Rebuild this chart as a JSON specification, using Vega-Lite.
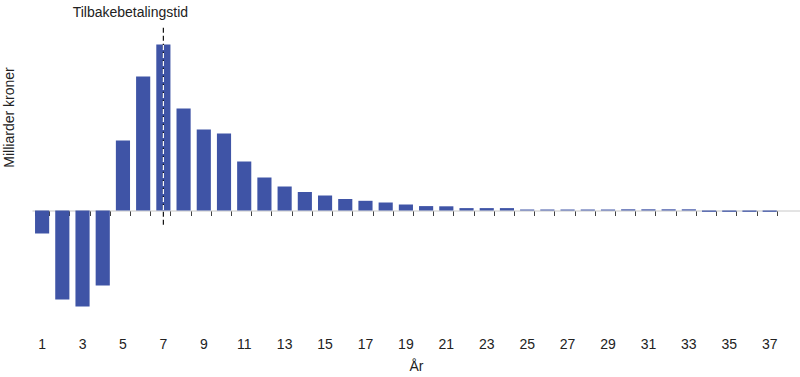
{
  "$schema": "https://vega.github.io/schema/vega-lite/v6.json",
  "width": 768,
  "height": 315,
  "autosize": {"type": "none"},
  "padding": {"left": 32, "top": 5, "right": 0, "bottom": 57},
  "config": {"view": {"stroke": null}, "font": "Liberation Sans"},
  "data": {
    "values": [
      {"year": 1, "value": -23}, {"year": 2, "value": -89}, {"year": 3, "value": -96},
      {"year": 4, "value": -75}, {"year": 5, "value": 70}, {"year": 6, "value": 134},
      {"year": 7, "value": 166}, {"year": 8, "value": 102}, {"year": 9, "value": 81},
      {"year": 10, "value": 77}, {"year": 11, "value": 49}, {"year": 12, "value": 33},
      {"year": 13, "value": 24}, {"year": 14, "value": 18.5}, {"year": 15, "value": 15},
      {"year": 16, "value": 11.5}, {"year": 17, "value": 9.7}, {"year": 18, "value": 8},
      {"year": 19, "value": 6}, {"year": 20, "value": 4.4}, {"year": 21, "value": 4.2},
      {"year": 22, "value": 2.4}, {"year": 23, "value": 2.4}, {"year": 24, "value": 2.4},
      {"year": 25, "value": 1}, {"year": 26, "value": 1}, {"year": 27, "value": 1},
      {"year": 28, "value": 1}, {"year": 29, "value": 1}, {"year": 30, "value": 1.2},
      {"year": 31, "value": 1.2}, {"year": 32, "value": 1.2}, {"year": 33, "value": 1.2},
      {"year": 34, "value": -1.3}, {"year": 35, "value": -1.3}, {"year": 36, "value": -1.3},
      {"year": 37, "value": -1.3}
    ]
  },
  "resolve": {"axis": {"x": "independent"}},
  "layer": [
    {
      "mark": {"type": "bar", "color": "#3f54a6"},
      "encoding": {
        "x": {
          "field": "year",
          "type": "ordinal",
          "scale": {"domain": [1,2,3,4,5,6,7,8,9,10,11,12,13,14,15,16,17,18,19,20,21,22,23,24,25,26,27,28,29,30,31,32,33,34,35,36,37,38], "paddingInner": 0.3, "paddingOuter": 0.15},
          "axis": {
            "orient": "bottom",
            "offset": -109.5,
            "labels": false,
            "domain": true,
            "domainColor": "#c8c8c8",
            "domainWidth": 1,
            "ticks": true,
            "tickBand": "extent",
            "tickSize": 5,
            "tickColor": "#444",
            "tickWidth": 1,
            "values": [1,2,3,4,5,6,7,8,9,10,11,12,13,14,15,16,17,18,19,20,21,22,23,24,25,26,27,28,29,30,31,32,33,34,35,36,37],
            "grid": false,
            "title": null
          }
        },
        "y": {
          "field": "value",
          "type": "quantitative",
          "scale": {"domain": [-109.5, 205.5], "nice": false, "zero": false},
          "axis": {
            "title": "Milliarder kroner",
            "labels": false,
            "ticks": false,
            "domain": false,
            "grid": false,
            "titleFontSize": 14,
            "titleFontWeight": "normal",
            "titleColor": "#222",
            "titleX": -16,
            "titleY": 112
          }
        }
      }
    },
    {
      "data": {"values": [{"year": 7, "top": 182.8, "bottom": -17.2}]},
      "mark": {"type": "rule", "color": "#111", "strokeDash": [5, 3], "strokeWidth": 1.2},
      "encoding": {
        "x": {
          "field": "year",
          "type": "ordinal",
          "axis": {
            "orient": "bottom",
            "values": [1,3,5,7,9,11,13,15,17,19,21,23,25,27,29,31,33,35,37],
            "labelAngle": 0,
            "domain": false,
            "ticks": false,
            "tickSize": 0,
            "grid": false,
            "labelPadding": 17,
            "labelFontSize": 14,
            "labelColor": "#222",
            "title": "År",
            "titleFontSize": 14,
            "titleFontWeight": "normal",
            "titleColor": "#222",
            "titlePadding": 8
          }
        },
        "y": {"field": "top", "type": "quantitative"},
        "y2": {"field": "bottom"}
      }
    },
    {
      "data": {"values": [{"year": 7, "top": 165.5, "bottom": 0.5}]},
      "mark": {"type": "rule", "color": "#ffffff", "strokeDash": [5, 3], "strokeWidth": 1.2},
      "encoding": {
        "x": {"field": "year", "type": "ordinal", "axis": null},
        "y": {"field": "top", "type": "quantitative"},
        "y2": {"field": "bottom"}
      }
    },
    {
      "data": {"values": [{"year": 7, "label": "Tilbakebetalingstid", "pos": 197.5}]},
      "mark": {"type": "text", "fontSize": 14, "color": "#222", "baseline": "middle", "dx": -33},
      "encoding": {
        "x": {"field": "year", "type": "ordinal", "axis": null},
        "y": {"field": "pos", "type": "quantitative"},
        "text": {"field": "label"}
      }
    }
  ]
}
